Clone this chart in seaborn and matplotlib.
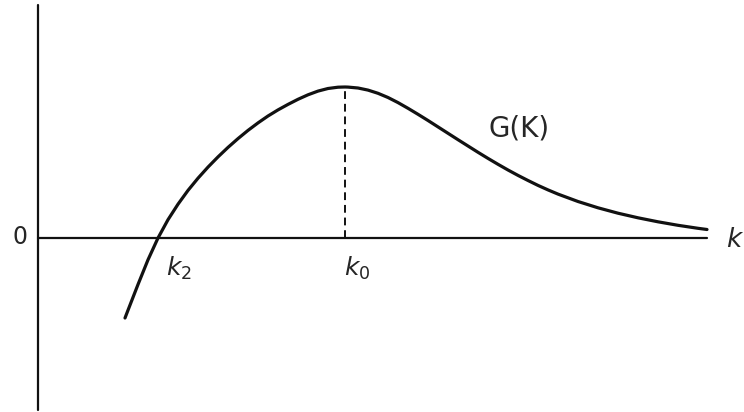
import numpy as np
import pandas as pd
import matplotlib
matplotlib.use("Agg")
import matplotlib.pyplot as plt
import seaborn as sns

# curve G(k) (arbitrary units)
k_values = [0.87, 0.90, 1.00, 1.10, 1.20, 1.30, 1.40, 1.50, 1.60, 1.70, 1.80,
            1.90, 2.00, 2.10, 2.20, 2.30, 2.40, 2.50, 2.60, 2.70, 2.80, 2.90,
            3.00, 3.07, 3.10, 3.20, 3.30, 3.40, 3.50, 3.60, 3.70, 3.80, 3.90,
            4.00, 4.10, 4.20, 4.30, 4.40, 4.50, 4.60, 4.70, 4.80, 4.90, 5.00,
            5.10, 5.20, 5.40, 5.60, 5.80, 6.00, 6.20, 6.40, 6.60, 6.69]
g_values = [-0.800, -0.722, -0.465, -0.218, 0.000, 0.183, 0.338, 0.476, 0.598,
            0.709, 0.811, 0.906, 0.994, 1.076, 1.151, 1.220, 1.281, 1.336, 1.387,
            1.432, 1.469, 1.495, 1.508, 1.510, 1.509, 1.500, 1.479, 1.447, 1.405,
            1.354, 1.297, 1.237, 1.175, 1.111, 1.047, 0.983, 0.920, 0.857, 0.796,
            0.737, 0.680, 0.626, 0.575, 0.526, 0.481, 0.439, 0.365, 0.302, 0.248,
            0.202, 0.162, 0.127, 0.097, 0.085]
k2 = 1.20
k0 = 3.07
g_peak = 1.51
k_axis_end = 6.69
g_axis_top = 2.33
g_axis_bottom = -1.72

df = pd.DataFrame({"k": k_values, "G": g_values})

sns.set_style("white")
plt.rcParams['font.family'] = ['DejaVu Sans']

fig = plt.figure(figsize=(7.44, 4.12), dpi=100)
ax = fig.add_axes([0, 0, 1, 1])

# axes drawn by hand, like the sketch
ax.plot([0, 0], [g_axis_bottom, g_axis_top], color='#111111', lw=1.6)
ax.plot([0, k_axis_end], [0, 0], color='#111111', lw=1.6)

sns.lineplot(data=df, x='k', y='G', color='#111111', lw=2.3, ax=ax,
             sort=False, estimator=None)

ax.plot([k0, k0], [0, g_peak], color='#111111', lw=1.4, ls=(0, (4, 2.5)))

ax.text(-0.18, 0.01, "0", fontsize=17, ha='center', va='center')
ax.text(k_axis_end + 0.19, -0.02, r"$k$", fontsize=19, ha='left', va='center')
ax.text(k2 + 0.08, -0.3, r"$k_2$", fontsize=18, ha='left', va='center')
ax.text(k0 - 0.01, -0.3, r"$k_0$", fontsize=18, ha='left', va='center')
ax.text(4.81, 1.1, "G(K)", fontsize=20, ha='center', va='center')

ax.set_xlim(-0.38, 7.06)
ax.set_ylim(-1.74, 2.38)
ax.axis('off')

fig.savefig("out.png", dpi=100)
plt.close(fig)
